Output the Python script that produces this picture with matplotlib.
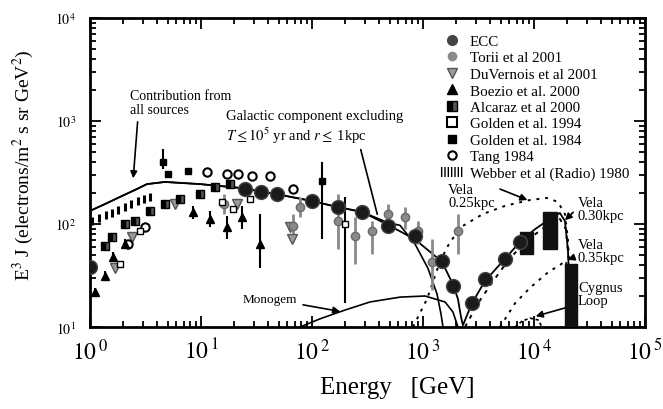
import matplotlib
matplotlib.use("Agg")
import matplotlib.pyplot as plt
import numpy as np
from matplotlib.lines import Line2D
from matplotlib.patches import Patch, Rectangle

plt.rcParams['font.family'] = ['Liberation Serif', 'DejaVu Serif']
plt.rcParams['mathtext.fontset'] = 'stix'

# ---- data (E in GeV, E^3 J) ----
ecc_e = [1.0, 25, 35, 48, 100, 171, 282, 484, 847, 1480, 1860, 2760, 3620, 5480, 7480]
ecc_f = [38, 219, 204, 195, 167, 146, 131, 96, 76, 44, 25, 17, 29, 46, 67]

torii_e = [16, 67, 78, 171, 244, 347, 484, 689, 902, 1205, 2065]
torii_f = [156, 96, 146, 107, 76, 86, 125, 117, 86, 43, 86]
torii_lo = [125, 67, 117, 57, 41, 51, 94, 89, 64, 23, 51]
torii_hi = [195, 125, 183, 195, 117, 107, 156, 146, 107, 71, 125]

duv_e = [1.68, 2.39, 5.8, 21, 63, 66]
duv_f = [37, 75, 156, 156, 94, 71]

boezio_e = [1.11, 1.36, 1.61, 2.07, 8.5, 12.1, 17.1, 23.4, 34]
boezio_f = [22, 31, 48, 64, 131, 112, 94, 117, 64]
boezio_lo = [20, 28, 43, 57, 112, 94, 72, 90, 37]
boezio_hi = [24, 35, 54, 72, 150, 134, 120, 150, 125]

alcaraz_e = [1.36, 1.58, 2.07, 2.54, 3.47, 4.74, 6.47, 9.8, 13.4, 18.2]
alcaraz_f = [61, 75, 100, 107, 134, 156, 175, 195, 229, 244]

golden94_e = [1.86, 2.82, 15.5, 19.4, 27.6, 198]
golden94_f = [41, 86, 164, 140, 175, 100]
golden94_lo = [41, 86, 164, 140, 175, 17]
golden94_hi = [41, 86, 164, 140, 175, 183]

golden84_e = [4.55, 5.0, 7.6, 123]
golden84_f = [400, 305, 327, 261]
golden84_lo = [342, 305, 327, 71]
golden84_hi = [535, 305, 327, 400]

tang_e = [2.2, 3.13, 11.3, 17.1, 21.5, 28.8, 41.8, 67]
tang_f = [64, 94, 320, 305, 305, 292, 292, 219]

webber_e = [1.05, 1.2, 1.38, 1.58, 1.8, 2.05, 2.35, 2.7, 3.05, 3.45]
webber_f = [108, 114, 121, 129, 137, 146, 156, 166, 175, 183]

# model curves
all_e = [1.0, 1.36, 1.86, 2.54, 3.26, 4.74, 9.8, 22.5, 48, 100, 171, 282, 484, 847,
         1480, 1860, 2065, 2200, 2290, 2760, 3620, 5480, 7480, 10200, 13900, 17100,
         19000, 20200, 21100, 21500]
all_f = [134, 156, 183, 214, 244, 256, 244, 224, 195, 167, 146, 131, 98, 71,
         43, 26, 18.7, 12.5, 10.4, 17, 28, 46, 67, 89, 112, 128,
         107, 57, 18.7, 10]

gal_e = [1.0, 1.36, 1.86, 2.54, 3.26, 4.74, 9.8, 22.5, 48, 100, 171, 282, 484, 621,
         847, 1110, 1336, 1452, 1514]
gal_f = [134, 156, 183, 214, 244, 256, 244, 224, 195, 167, 146, 131, 103, 97,
         64, 37, 21, 13.4, 10]

monogem_e = [78, 118, 198, 333, 621, 1043, 1580, 1860, 2065]
monogem_f = [10, 12, 14.6, 17.5, 19.5, 20, 17.5, 14, 10]

vela25_e = [813, 1087, 1420, 1750, 2290, 3470, 5480, 9200, 13100, 16400, 19000, 20200, 21100, 21500]
vela25_f = [10, 18.7, 43, 67, 96, 125, 150, 171, 179, 164, 125, 71, 29, 10]

vela30_e = [2390, 3130, 4190, 5830, 8300, 12600, 17100, 19400, 20700, 21500]
vela30_f = [10, 17, 27, 44, 67, 94, 112, 89, 41, 10]

vela35_e = [4940, 6750, 9200, 13400, 17100, 19400, 20700, 21100]
vela35_f = [10, 17, 24, 34, 40, 44, 26, 10]

cygnus_e = [6750, 7800, 9200, 10900, 11800]
cygnus_f = [10, 11.4, 12.2, 11.7, 10]

# boxes: (E_lo, E_hi, F_lo, F_hi)
boxes = [(7480, 9800, 51, 84), (12050, 16100, 57, 131), (19000, 24400, 10, 41)]

fig = plt.figure(figsize=(6.63, 4.10), dpi=100)
ax = fig.add_axes([90 / 663, 82 / 410, 555 / 663, 309 / 410])
ax.set_xscale('log')
ax.set_yscale('log')
ax.set_xlim(1, 1e5)
ax.set_ylim(10, 1e4)

# curves
ax.plot(all_e, all_f, color='black', lw=1.3, zorder=3)
ax.plot(gal_e, gal_f, color='black', lw=1.2, zorder=3)
ax.plot(monogem_e, monogem_f, color='black', lw=1.2, zorder=3)
ax.plot(vela25_e, vela25_f, color='black', lw=1.4, ls=(0, (1.5, 3)), zorder=3)
ax.plot(vela30_e, vela30_f, color='black', lw=1.4, ls=(0, (2, 3)), zorder=3)
ax.plot(vela35_e, vela35_f, color='black', lw=1.4, ls=(0, (1.5, 3)), zorder=3)
ax.plot(cygnus_e, cygnus_f, color='black', lw=1.2, ls=(0, (2, 1.5)), zorder=3)

for e0, e1, f0, f1 in boxes:
    ax.add_patch(Rectangle((e0, f0), e1 - e0, f1 - f0, color='#111111', zorder=4))

# data sets
def err(f, lo, hi):
    f = np.array(f)
    return [f - np.array(lo), np.array(hi) - f]

ax.scatter(webber_e, webber_f, marker='|', s=40, color='black', linewidths=2.2, zorder=4)
ax.errorbar(torii_e, torii_f, yerr=err(torii_f, torii_lo, torii_hi), fmt='o', ms=6,
            color='#8a8a8a', mec='#6a6a6a', elinewidth=2, capsize=0, zorder=4)
ax.plot(duv_e, duv_f, 'v', ms=7, color='#9a9a9a', mec='#555555', zorder=4)
ax.errorbar(boezio_e, boezio_f, yerr=err(boezio_f, boezio_lo, boezio_hi), fmt='^', ms=6,
            color='black', elinewidth=1.5, capsize=0, zorder=5)
ax.plot(alcaraz_e, alcaraz_f, 's', ms=6, color='black', fillstyle='left',
        markerfacecoloralt='#555555', zorder=5)
ax.errorbar(golden94_e, golden94_f, yerr=err(golden94_f, golden94_lo, golden94_hi), fmt='s',
            ms=5, color='black', mfc='white', elinewidth=1.5, capsize=0, zorder=5)
ax.errorbar(golden84_e, golden84_f, yerr=err(golden84_f, golden84_lo, golden84_hi), fmt='s',
            ms=4.5, color='black', elinewidth=1.5, capsize=0, zorder=5)
ax.plot(tang_e, tang_f, 'o', ms=6, color='black', mfc='white', mew=1.5, zorder=5)
ax.plot(ecc_e, ecc_f, 'o', ms=10, color='#1a1a1a', mec='#444444', zorder=6)

# legend
handles = [
    Line2D([], [], ls='', marker='o', ms=7, color='#444444'),
    Line2D([], [], ls='', marker='o', ms=6, color='#8a8a8a'),
    Line2D([], [], ls='', marker='v', ms=7, color='#9a9a9a', mec='#555555'),
    Line2D([], [], ls='', marker='^', ms=7, color='black'),
    Line2D([], [], ls='', marker='s', ms=7, color='black', fillstyle='left', markerfacecoloralt='#555555'),
    Line2D([], [], ls='', marker='s', ms=7, color='black', mfc='white', mew=1.5),
    Line2D([], [], ls='', marker='s', ms=5.5, color='black'),
    Line2D([], [], ls='', marker='o', ms=6, color='black', mfc='white', mew=1.5),
    Patch(facecolor='white', edgecolor='black', hatch='|||||', lw=0),
]
labels = ['ECC', 'Torii et al 2001', 'DuVernois et al 2001', 'Boezio et al. 2000',
          'Alcaraz et al 2000', 'Golden et al. 1994', 'Golden et al. 1984',
          'Tang 1984', 'Webber et al (Radio) 1980']
ax.legend(handles, labels, loc='upper left', bbox_to_anchor=(432 / 663, 1 - 28 / 410),
          bbox_transform=fig.transFigure, frameon=False, fontsize=10.8,
          handlelength=1.6, handletextpad=0.4, labelspacing=0.2, borderpad=0)

# annotations
arrow = dict(arrowstyle='-|>', color='black', lw=1.2, mutation_scale=10)
ax.annotate('Contribution from\nall sources', xy=(2.44, 261), xytext=(2.29, 1500),
            fontsize=10, va='center', ha='left', linespacing=1.1,
            arrowprops=dict(arrowstyle='-|>', color='black', lw=1.2, mutation_scale=10,
                            relpos=(0.08, 0.0)))
ax.text(16.8, 1120, 'Galactic component excluding', fontsize=10.5, va='center')
ax.text(16.8, 731, r'$T \leq 10^5$ yr and $r \leq$ 1kpc', fontsize=10.5, va='center')
ax.annotate('', xy=(393, 117), xytext=(271, 560), arrowprops=dict(arrowstyle='-', lw=1.2))
ax.annotate('Monogem', xy=(190, 14), xytext=(23.9, 18.7), fontsize=9.5, va='center',
            arrowprops=arrow)
ax.annotate('Vela\n0.25kpc', xy=(9200, 167), xytext=(1680, 187), fontsize=10.5, va='center',
            linespacing=1.0,
            arrowprops=dict(arrowstyle='-|>', color='black', lw=1.2, mutation_scale=10,
                            relpos=(1.0, 0.85)))
ax.annotate('Vela\n0.30kpc', xy=(18200, 104), xytext=(24900, 140), fontsize=10.5, va='center',
            linespacing=1.0,
            arrowprops=dict(arrowstyle='-|>', color='black', lw=1.2, mutation_scale=10,
                            relpos=(0.0, 0.55)))
ax.annotate('Vela\n0.35kpc', xy=(19000, 44), xytext=(24900, 55), fontsize=10.5, va='center',
            linespacing=1.0,
            arrowprops=dict(arrowstyle='-|>', color='black', lw=1.2, mutation_scale=10,
                            relpos=(0.0, 0.3)))
ax.annotate('Cygnus\nLoop', xy=(9800, 12.5), xytext=(24900, 21), fontsize=10.5, va='center',
            linespacing=1.0,
            arrowprops=dict(arrowstyle='-|>', color='black', lw=1.2, mutation_scale=10,
                            relpos=(0.0, 0.1)))

# axes styling
for s in ax.spines.values():
    s.set_linewidth(2)
ax.tick_params(which='both', direction='in', top=True, right=True, width=1.3)
ax.tick_params(which='major', length=8)
ax.tick_params(which='minor', length=4)
ax.set_xticks([1, 10, 100, 1e3, 1e4, 1e5])
ax.set_xticklabels([r'$10^{\,0}$', r'$10^{\,1}$', r'$10^{\,2}$', r'$10^{\,3}$',
                    r'$10^{\,4}$', r'$10^{\,5}$'], fontsize=17)
ax.tick_params(axis='x', which='major', pad=8)
ax.set_yticks([10, 100, 1e3, 1e4])
ax.set_yticklabels([r'$10^1$', r'$10^2$', r'$10^3$', r'$10^4$'], fontsize=10)
ax.tick_params(axis='y', which='major', pad=10)

fig.text(0.035, 1 - 165 / 410, r'E$^3$ J (electrons/m$^2$ s sr GeV$^2$)', rotation=90,
         fontsize=14, ha='center', va='center')
fig.text(0.60, 1 - 388 / 410, 'Energy   [GeV]', fontsize=18, ha='center', va='center')

fig.savefig('out.png', dpi=100)
